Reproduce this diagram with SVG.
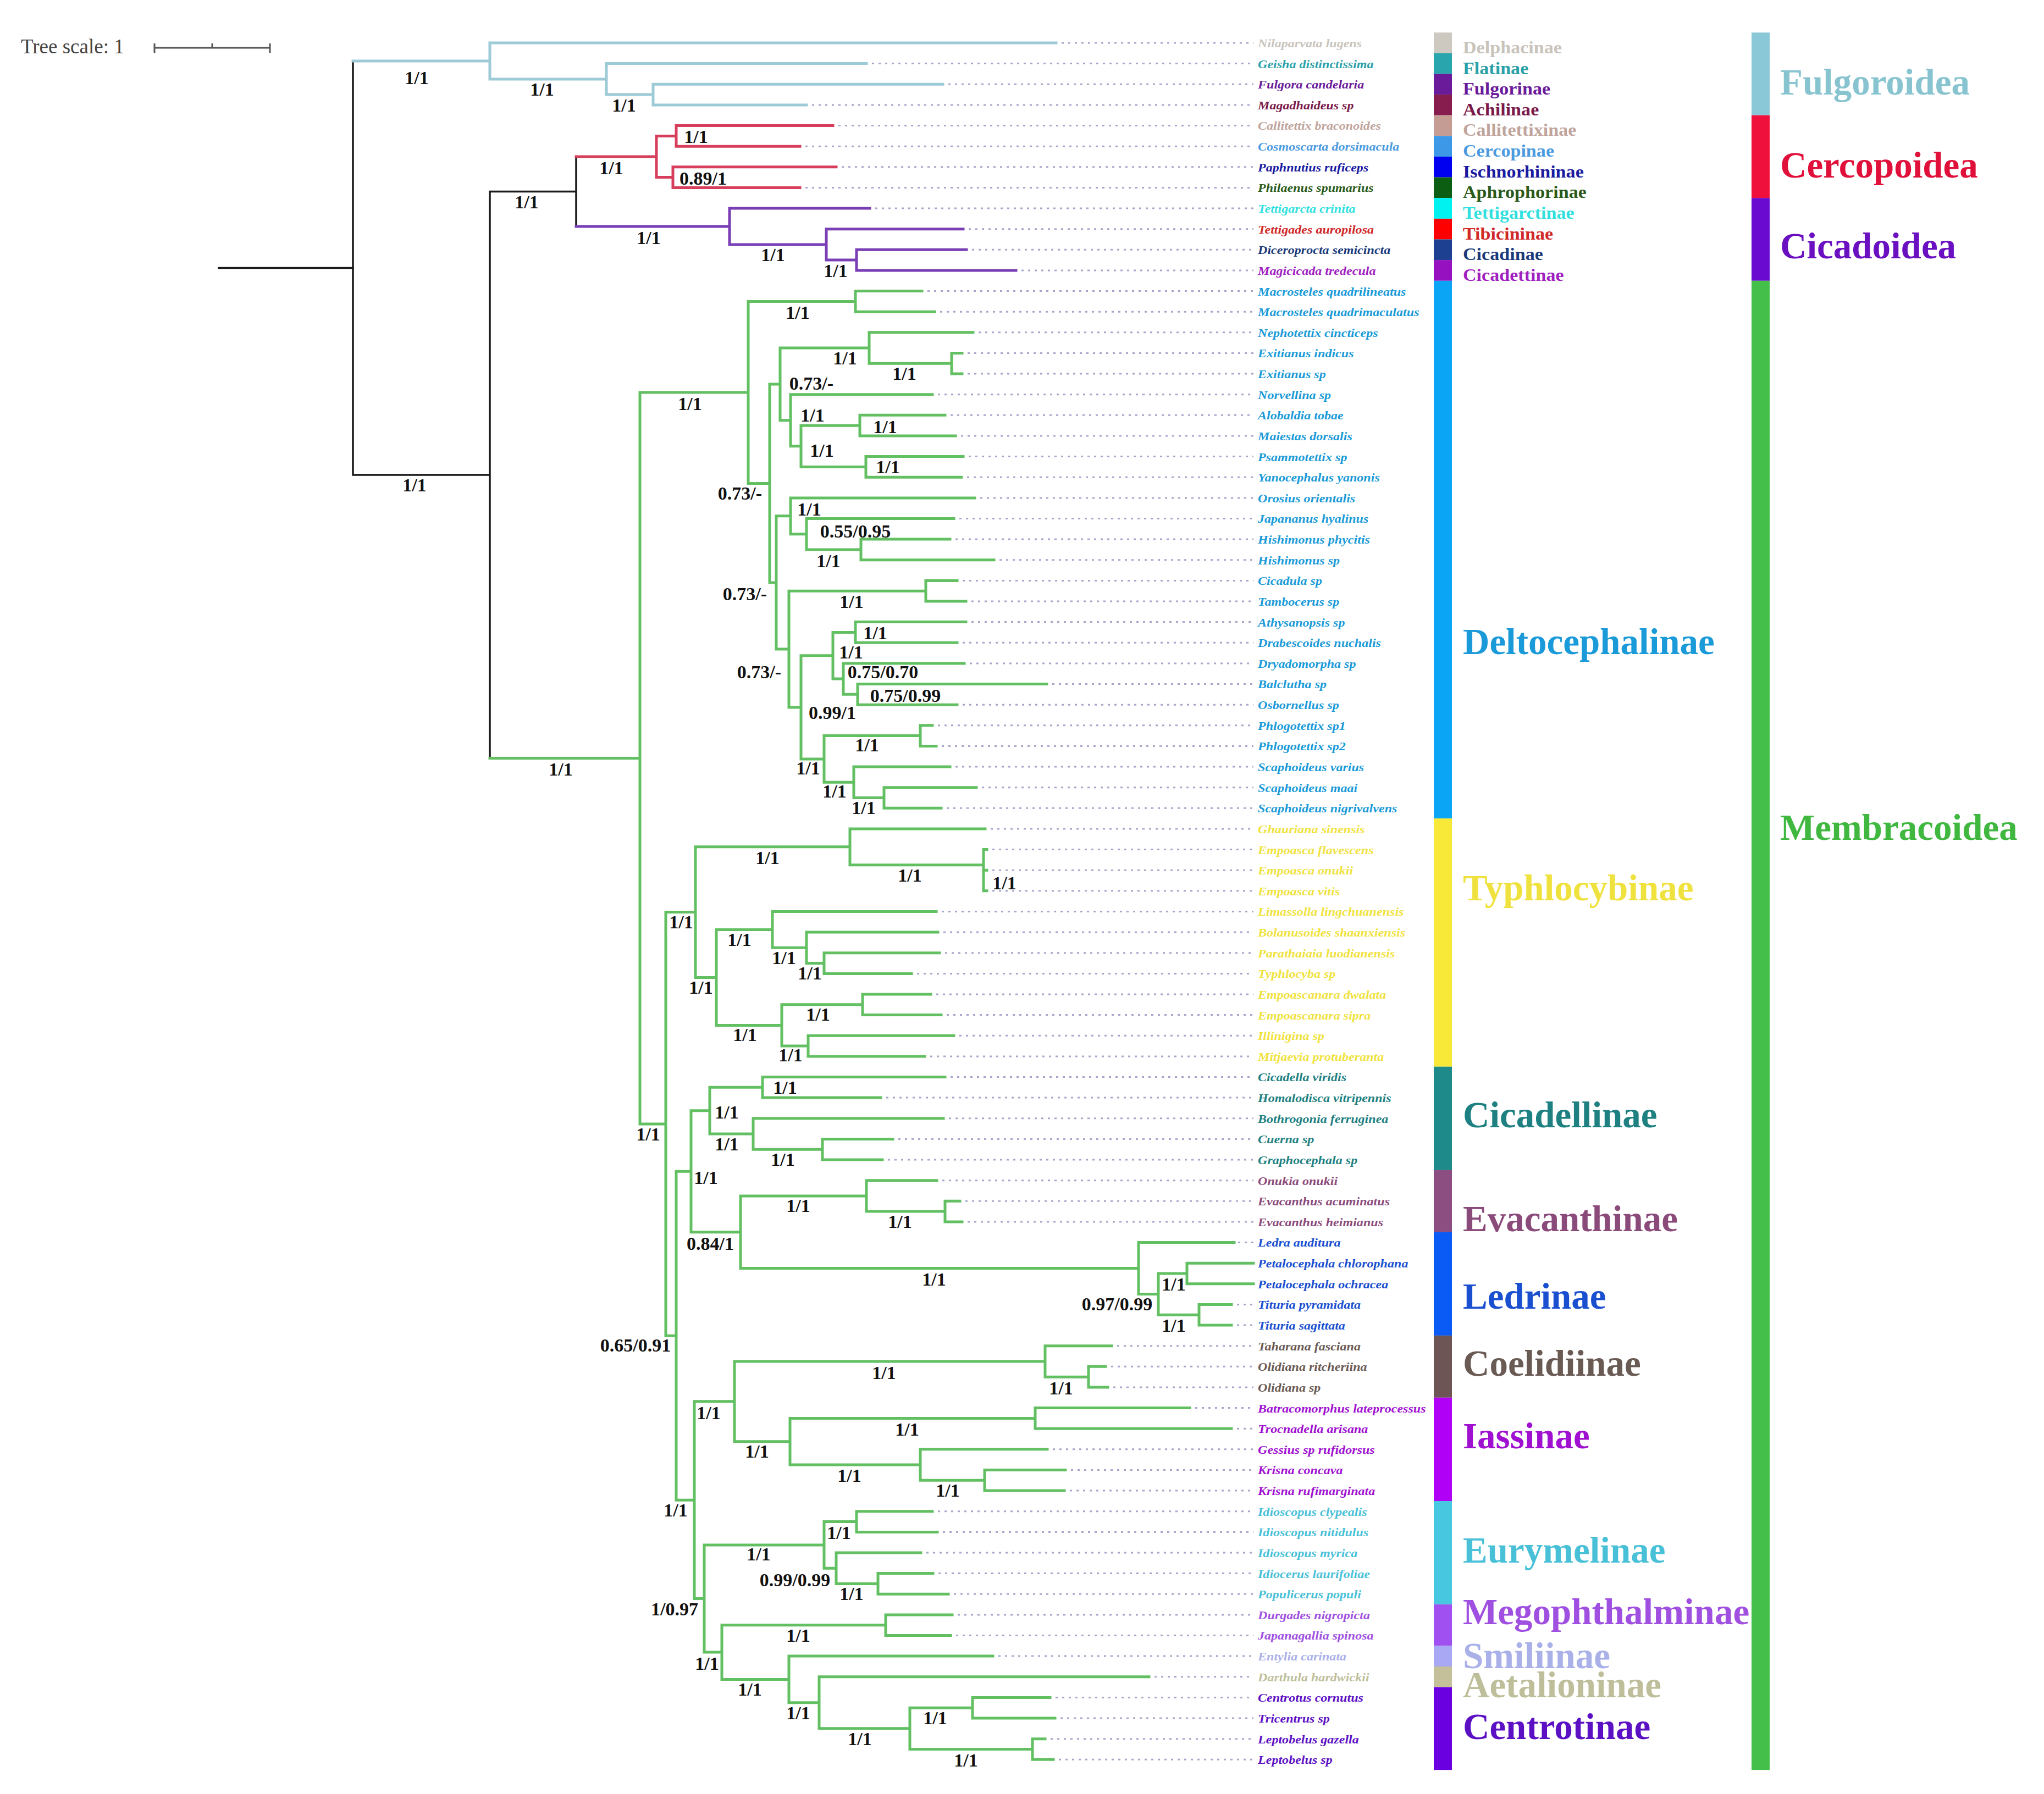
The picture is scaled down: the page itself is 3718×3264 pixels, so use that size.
<svg xmlns="http://www.w3.org/2000/svg" width="3718" height="3264" viewBox="0 0 3718 3264">
<style>
text{font-family:'Liberation Serif','Times New Roman',serif}
.br{fill:none;stroke-width:5;stroke-linecap:square}
.bk{fill:none;stroke:#1a1a1a;stroke-width:3.5;stroke-linecap:square}
.fu{stroke:#9ccad6}.ce{stroke:#d63e5c}.ci{stroke:#7a3fb5}.me{stroke:#62c062}
.lead{fill:none;stroke:#a6a6cc;stroke-width:3;stroke-dasharray:4 8}
.sup{font-size:34px;font-weight:bold;fill:#111;text-anchor:middle}
.lf{font-size:21.5px;font-weight:bold;font-style:italic}
.sf{font-size:31px;font-weight:bold}
.big{font-size:67px;font-weight:bold}
.c0{fill:#c8c4bc}.c1{fill:#2aa0a8}.c2{fill:#6a1a9a}.c3{fill:#7a1a4a}.c4{fill:#c0a49c}.c5{fill:#4a9ae0}.c6{fill:#1a1aa0}.c7{fill:#2a5a1a}.c8{fill:#30e0e0}.c9{fill:#d02828}.c10{fill:#1a3a7a}.c11{fill:#a020c0}
.dl{fill:#1a9ad8}.ty{fill:#f0e23e}.cl{fill:#1e8080}.ev{fill:#8a4a7a}.le{fill:#1a50d0}.co{fill:#6a5a54}.ia{fill:#a010d0}.eu{fill:#48c0d8}.mg{fill:#a050e0}.sm{fill:#aab0e8}.ae{fill:#bebe9a}.cn{fill:#5c10c4}
</style>

<g id="scale">
<text x="38" y="97" font-size="37" fill="#444">Tree scale: 1</text>
<path d="M281 87 H491 M281 79 V96 M491 79 V96 M386 79 V87" fill="none" stroke="#555" stroke-width="3"/>
</g>

<g id="connectors">
<path class="bk" d="M398 487.5 H642" stroke="#555" stroke-width="6"/>
<path class="bk" d="M642 111 V864 M642 864 H891 M891 348.5 V1379.4 M891 348.5 H1048 M1048 285 V412"/>
<path class="br fu" d="M642 111 H891 M891 78 V143.9 M891 78 H1921 M891 143.9 H1103 M1103 115.6 V172.1 M1103 115.6 H1576 M1103 172.1 H1188 M1188 153.3 V190.9 M1188 153.3 H1715 M1188 190.9 H1467"/>
<path class="br ce" d="M1048 285 H1194 M1194 247.4 V322.6 M1194 247.4 H1230 M1230 228.5 V266.2 M1230 228.5 H1515 M1230 266.2 H1455 M1194 322.6 H1224 M1224 303.8 V341.4 M1224 303.8 H1521 M1224 341.4 H1455"/>
<path class="br ci" d="M1048 412 H1327 M1327 379 V444.9 M1327 379 H1582 M1327 444.9 H1503 M1503 416.7 V473.1 M1503 416.7 H1752 M1503 473.1 H1558 M1558 454.3 V491.9 M1558 454.3 H1758 M1558 491.9 H1848"/>
<path class="br me" d="M891 1379.4 H1164 M1164 713.9 V2044.9 M1164 713.9 H1361 M1361 548.4 V879.4 M1361 548.4 H1556 M1556 529.6 V567.2 M1556 529.6 H1677 M1556 567.2 H1700
M1361 879.4 H1400 M1400 698.9 V1059.9 M1400 698.9 H1419 M1419 633 V764.75 M1419 633 H1581 M1581 604.8 V661.3 M1581 604.8 H1770 M1581 661.3 H1731 M1731 642.5 V680.1 M1731 642.5 H1750 M1731 680.1 H1750
M1419 764.75 H1438 M1438 717.7 V811.8 M1438 717.7 H1696 M1438 811.8 H1457 M1457 774.15 V849.4 M1457 774.15 H1564 M1564 755.3 V793 M1564 755.3 H1719 M1564 793 H1738 M1457 849.4 H1575 M1575 830.6 V868.2 M1575 830.6 H1752 M1575 868.2 H1749
M1400 1059.9 H1412 M1412 938.8 V1181.05 M1412 938.8 H1438 M1438 905.9 V971.7 M1438 905.9 H1773 M1438 971.7 H1467 M1467 943.5 V999.95 M1467 943.5 H1735 M1467 999.95 H1566 M1566 981.1 V1018.8 M1566 981.1 H1728 M1566 1018.8 H1808
M1412 1181.05 H1435 M1435 1075.2 V1286.9 M1435 1075.2 H1684 M1684 1056.4 V1094 M1684 1056.4 H1741 M1684 1094 H1757
M1435 1286.9 H1457 M1457 1192.8 V1380.95 M1457 1192.8 H1515 M1515 1150.45 V1235.1 M1515 1150.45 H1556 M1556 1131.6 V1169.3 M1556 1131.6 H1757 M1556 1169.3 H1741 M1515 1235.1 H1534 M1534 1206.9 V1263.35 M1534 1206.9 H1754 M1534 1263.35 H1560 M1560 1244.5 V1282.2 M1560 1244.5 H1904 M1560 1282.2 H1741
M1457 1380.95 H1499 M1499 1338.6 V1423.3 M1499 1338.6 H1674 M1674 1319.8 V1357.4 M1674 1319.8 H1696 M1674 1357.4 H1703 M1499 1423.3 H1553 M1553 1395.1 V1451.5 M1553 1395.1 H1728 M1553 1451.5 H1608 M1608 1432.7 V1470.3 M1608 1432.7 H1776 M1608 1470.3 H1712
M1164 2044.9 H1211 M1211 1659.6 V2430.2 M1211 1659.6 H1265 M1265 1540.85 V1778.4 M1265 1540.85 H1546 M1546 1507.9 V1573.8 M1546 1507.9 H1792 M1546 1573.8 H1789 M1789 1545.6 V1620.8 M1789 1545.6 H1795 M1789 1583.2 H1795 M1789 1620.8 H1795
M1265 1778.4 H1303 M1303 1691.4 V1865.4 M1303 1691.4 H1405 M1405 1658.5 V1724.3 M1405 1658.5 H1703 M1405 1724.3 H1467 M1467 1696.1 V1752.55 M1467 1696.1 H1706 M1467 1752.55 H1499 M1499 1733.7 V1771.4 M1499 1733.7 H1709 M1499 1771.4 H1658
M1303 1865.4 H1422 M1422 1827.8 V1903.05 M1422 1827.8 H1569 M1569 1809 V1846.6 M1569 1809 H1693 M1569 1846.6 H1712 M1422 1903.05 H1470 M1470 1884.2 V1921.9 M1470 1884.2 H1735 M1470 1921.9 H1682
M1211 2430.2 H1230 M1230 2131.2 V2729.15 M1230 2131.2 H1257 M1257 2020.65 V2241.7 M1257 2020.65 H1291 M1291 1978.3 V2063 M1291 1978.3 H1387 M1387 1959.5 V1997.1 M1387 1959.5 H1719 M1387 1997.1 H1602 M1291 2063 H1370 M1370 2034.8 V2091.2 M1370 2034.8 H1716 M1370 2091.2 H1496 M1496 2072.4 V2110 M1496 2072.4 H1624 M1496 2110 H1605
M1257 2241.7 H1347 M1347 2175.9 V2307.55 M1347 2175.9 H1576 M1576 2147.7 V2204.1 M1576 2147.7 H1704 M1576 2204.1 H1719 M1719 2185.3 V2222.9 M1719 2185.3 H1746 M1719 2222.9 H1750
M1347 2307.55 H2071 M2071 2260.5 V2354.6 M2071 2260.5 H2245 M2071 2354.6 H2107 M2107 2317 V2392.25 M2107 2317 H2159 M2159 2298.2 V2335.8 M2159 2298.2 H2280 M2159 2335.8 H2280 M2107 2392.25 H2181 M2181 2373.4 V2411.1 M2181 2373.4 H2240 M2181 2411.1 H2240
M1230 2729.15 H1263 M1263 2549.8 V2908.5 M1263 2549.8 H1336 M1336 2476.9 V2622.7 M1336 2476.9 H1901 M1901 2448.7 V2505.15 M1901 2448.7 H2022 M1901 2505.15 H1980 M1980 2486.3 V2524 M1980 2486.3 H2011 M1980 2524 H2015
M1336 2622.7 H1437 M1437 2580.4 V2665.05 M1437 2580.4 H1883 M1883 2561.6 V2599.2 M1883 2561.6 H2164 M1883 2599.2 H2240 M1437 2665.05 H1674 M1674 2636.8 V2693.3 M1674 2636.8 H1905 M1674 2693.3 H1791 M1791 2674.5 V2712.1 M1791 2674.5 H1938 M1791 2712.1 H1936
M1263 2908.5 H1281 M1281 2810.9 V3006.1 M1281 2810.9 H1499 M1499 2768.55 V2853.2 M1499 2768.55 H1558 M1558 2749.7 V2787.4 M1558 2749.7 H1696 M1558 2787.4 H1705 M1499 2853.2 H1521 M1521 2825 V2881.45 M1521 2825 H1675 M1521 2881.45 H1597 M1597 2862.6 V2900.3 M1597 2862.6 H1697 M1597 2900.3 H1725
M1281 3006.1 H1313 M1313 2956.7 V3055.45 M1313 2956.7 H1611 M1611 2937.9 V2975.5 M1611 2937.9 H1732 M1611 2975.5 H1729 M1313 3055.45 H1435 M1435 3013.1 V3097.8 M1435 3013.1 H1806 M1435 3097.8 H1490 M1490 3050.8 V3144.85 M1490 3050.8 H2090 M1490 3144.85 H1655 M1655 3107.2 V3182.5 M1655 3107.2 H1769 M1769 3088.4 V3126 M1769 3088.4 H1910 M1769 3126 H1919 M1655 3182.5 H1878 M1878 3163.7 V3201.3 M1878 3163.7 H1901 M1878 3201.3 H1916"/>
<path class="lead" d="M1931 78 H2280 M1586 115.6 H2280 M1725 153.3 H2280 M1477 190.9 H2280 M1525 228.5 H2280 M1465 266.2 H2280 M1531 303.8 H2280 M1465 341.4 H2280 M1592 379 H2280 M1762 416.7 H2280 M1768 454.3 H2280 M1858 491.9 H2280
M1687 529.6 H2280 M1710 567.2 H2280 M1780 604.8 H2280 M1760 642.5 H2280 M1760 680.1 H2280 M1706 717.7 H2280 M1729 755.3 H2280 M1748 793 H2280 M1762 830.6 H2280 M1759 868.2 H2280 M1783 905.9 H2280 M1745 943.5 H2280 M1738 981.1 H2280 M1818 1018.8 H2280 M1751 1056.4 H2280 M1767 1094 H2280 M1767 1131.6 H2280 M1751 1169.3 H2280 M1764 1206.9 H2280 M1914 1244.5 H2280 M1751 1282.2 H2280 M1706 1319.8 H2280 M1713 1357.4 H2280 M1738 1395.1 H2280 M1786 1432.7 H2280 M1722 1470.3 H2280
M1802 1507.9 H2280 M1805 1545.6 H2280 M1805 1583.2 H2280 M1805 1620.8 H2280 M1713 1658.5 H2280 M1716 1696.1 H2280 M1719 1733.7 H2280 M1668 1771.4 H2280 M1703 1809 H2280 M1722 1846.6 H2280 M1745 1884.2 H2280 M1692 1921.9 H2280
M1729 1959.5 H2280 M1612 1997.1 H2280 M1726 2034.8 H2280 M1634 2072.4 H2280 M1615 2110 H2280 M1714 2147.7 H2280 M1756 2185.3 H2280 M1760 2222.9 H2280 M2252 2260.5 H2280 M2250 2373.4 H2280 M2250 2411.1 H2280
M2032 2448.7 H2280 M2021 2486.3 H2280 M2025 2524 H2280 M2174 2561.6 H2280 M2250 2599.2 H2280 M1915 2636.8 H2280 M1948 2674.5 H2280 M1946 2712.1 H2280 M1706 2749.7 H2280 M1715 2787.4 H2280 M1685 2825 H2280 M1707 2862.6 H2280 M1735 2900.3 H2280 M1742 2937.9 H2280 M1739 2975.5 H2280 M1816 3013.1 H2280 M2100 3050.8 H2280 M1920 3088.4 H2280 M1929 3126 H2280 M1911 3163.7 H2280 M1926 3201.3 H2280"/>
</g>

<g id="support">
<text class="sup" x="758" y="153">1/1</text>
<text class="sup" x="986" y="174">1/1</text>
<text class="sup" x="1135" y="203">1/1</text>
<text class="sup" x="1266" y="260">1/1</text>
<text class="sup" x="1112" y="317">1/1</text>
<text class="sup" x="1279" y="336">0.89/1</text>
<text class="sup" x="958" y="379">1/1</text>
<text class="sup" x="1180" y="444">1/1</text>
<text class="sup" x="1406" y="475">1/1</text>
<text class="sup" x="1520" y="504">1/1</text>
<text class="sup" x="754" y="894">1/1</text>
<text class="sup" x="1020" y="1411">1/1</text>
<text class="sup" x="1255" y="746">1/1</text>
<text class="sup" x="1451" y="580">1/1</text>
<text class="sup" x="1476" y="709">0.73/-</text>
<text class="sup" x="1537" y="663">1/1</text>
<text class="sup" x="1645" y="691">1/1</text>
<text class="sup" x="1346" y="909">0.73/-</text>
<text class="sup" x="1478" y="767">1/1</text>
<text class="sup" x="1495" y="831">1/1</text>
<text class="sup" x="1610" y="788">1/1</text>
<text class="sup" x="1615" y="861">1/1</text>
<text class="sup" x="1472" y="938">1/1</text>
<text class="sup" x="1556" y="978">0.55/0.95</text>
<text class="sup" x="1507" y="1032">1/1</text>
<text class="sup" x="1355" y="1092">0.73/-</text>
<text class="sup" x="1381" y="1234">0.73/-</text>
<text class="sup" x="1549" y="1106">1/1</text>
<text class="sup" x="1548" y="1198">1/1</text>
<text class="sup" x="1592" y="1163">1/1</text>
<text class="sup" x="1606" y="1234">0.75/0.70</text>
<text class="sup" x="1647" y="1277">0.75/0.99</text>
<text class="sup" x="1514" y="1308">0.99/1</text>
<text class="sup" x="1470" y="1409">1/1</text>
<text class="sup" x="1577" y="1367">1/1</text>
<text class="sup" x="1518" y="1451">1/1</text>
<text class="sup" x="1571" y="1481">1/1</text>
<text class="sup" x="1239" y="1689">1/1</text>
<text class="sup" x="1396" y="1572">1/1</text>
<text class="sup" x="1655" y="1604">1/1</text>
<text class="sup" x="1827" y="1618">1/1</text>
<text class="sup" x="1275" y="1808">1/1</text>
<text class="sup" x="1345" y="1721">1/1</text>
<text class="sup" x="1426" y="1754">1/1</text>
<text class="sup" x="1473" y="1782">1/1</text>
<text class="sup" x="1355" y="1894">1/1</text>
<text class="sup" x="1488" y="1857">1/1</text>
<text class="sup" x="1438" y="1931">1/1</text>
<text class="sup" x="1179" y="2075">1/1</text>
<text class="sup" x="1156" y="2459">0.65/0.91</text>
<text class="sup" x="1284" y="2154">1/1</text>
<text class="sup" x="1322" y="2035">1/1</text>
<text class="sup" x="1428" y="1990">1/1</text>
<text class="sup" x="1322" y="2093">1/1</text>
<text class="sup" x="1424" y="2121">1/1</text>
<text class="sup" x="1292" y="2274">0.84/1</text>
<text class="sup" x="1452" y="2205">1/1</text>
<text class="sup" x="1637" y="2234">1/1</text>
<text class="sup" x="1699" y="2339">1/1</text>
<text class="sup" x="2032" y="2384">0.97/0.99</text>
<text class="sup" x="2135" y="2348">1/1</text>
<text class="sup" x="2135" y="2423">1/1</text>
<text class="sup" x="1229" y="2759">1/1</text>
<text class="sup" x="1289" y="2582">1/1</text>
<text class="sup" x="1608" y="2509">1/1</text>
<text class="sup" x="1930" y="2537">1/1</text>
<text class="sup" x="1377" y="2652">1/1</text>
<text class="sup" x="1650" y="2612">1/1</text>
<text class="sup" x="1545" y="2696">1/1</text>
<text class="sup" x="1724" y="2723">1/1</text>
<text class="sup" x="1227" y="2939">1/0.97</text>
<text class="sup" x="1380" y="2839">1/1</text>
<text class="sup" x="1526" y="2800">1/1</text>
<text class="sup" x="1446" y="2886">0.99/0.99</text>
<text class="sup" x="1549" y="2911">1/1</text>
<text class="sup" x="1452" y="2987">1/1</text>
<text class="sup" x="1286" y="3038">1/1</text>
<text class="sup" x="1364" y="3085">1/1</text>
<text class="sup" x="1452" y="3128">1/1</text>
<text class="sup" x="1564" y="3175">1/1</text>
<text class="sup" x="1701" y="3137">1/1</text>
<text class="sup" x="1757" y="3214">1/1</text>
</g>

<g id="leaves" transform="translate(2288 0) scale(1.12 1)">
<g id="leaf-0"><text class="lf c0" x="0" y="86">Nilaparvata lugens</text></g>
<g id="leaf-1"><text class="lf c1" x="0" y="123.6">Geisha distinctissima</text></g>
<g id="leaf-2"><text class="lf c2" x="0" y="161.3">Fulgora candelaria</text></g>
<g id="leaf-3"><text class="lf c3" x="0" y="198.9">Magadhaideus sp</text></g>
<g id="leaf-4"><text class="lf c4" x="0" y="236.5">Callitettix braconoides</text></g>
<g id="leaf-5"><text class="lf c5" x="0" y="274.2">Cosmoscarta dorsimacula</text></g>
<g id="leaf-6"><text class="lf c6" x="0" y="311.8">Paphnutius ruficeps</text></g>
<g id="leaf-7"><text class="lf c7" x="0" y="349.4">Philaenus spumarius</text></g>
<g id="leaf-8"><text class="lf c8" x="0" y="387">Tettigarcta crinita</text></g>
<g id="leaf-9"><text class="lf c9" x="0" y="424.7">Tettigades auropilosa</text></g>
<g id="leaf-10"><text class="lf c10" x="0" y="462.3">Diceroprocta semicincta</text></g>
<g id="leaf-11"><text class="lf c11" x="0" y="499.9">Magicicada tredecula</text></g>
<g id="leaf-12"><text class="lf dl" x="0" y="537.6">Macrosteles quadrilineatus</text></g>
<g id="leaf-13"><text class="lf dl" x="0" y="575.2">Macrosteles quadrimaculatus</text></g>
<g id="leaf-14"><text class="lf dl" x="0" y="612.8">Nephotettix cincticeps</text></g>
<g id="leaf-15"><text class="lf dl" x="0" y="650.5">Exitianus indicus</text></g>
<g id="leaf-16"><text class="lf dl" x="0" y="688.1">Exitianus sp</text></g>
<g id="leaf-17"><text class="lf dl" x="0" y="725.7">Norvellina sp</text></g>
<g id="leaf-18"><text class="lf dl" x="0" y="763.3">Alobaldia tobae</text></g>
<g id="leaf-19"><text class="lf dl" x="0" y="801">Maiestas dorsalis</text></g>
<g id="leaf-20"><text class="lf dl" x="0" y="838.6">Psammotettix sp</text></g>
<g id="leaf-21"><text class="lf dl" x="0" y="876.2">Yanocephalus yanonis</text></g>
<g id="leaf-22"><text class="lf dl" x="0" y="913.9">Orosius orientalis</text></g>
<g id="leaf-23"><text class="lf dl" x="0" y="951.5">Japananus hyalinus</text></g>
<g id="leaf-24"><text class="lf dl" x="0" y="989.1">Hishimonus phycitis</text></g>
<g id="leaf-25"><text class="lf dl" x="0" y="1026.8">Hishimonus sp</text></g>
<g id="leaf-26"><text class="lf dl" x="0" y="1064.4">Cicadula sp</text></g>
<g id="leaf-27"><text class="lf dl" x="0" y="1102">Tambocerus sp</text></g>
<g id="leaf-28"><text class="lf dl" x="0" y="1139.6">Athysanopsis sp</text></g>
<g id="leaf-29"><text class="lf dl" x="0" y="1177.3">Drabescoides nuchalis</text></g>
<g id="leaf-30"><text class="lf dl" x="0" y="1214.9">Dryadomorpha sp</text></g>
<g id="leaf-31"><text class="lf dl" x="0" y="1252.5">Balclutha sp</text></g>
<g id="leaf-32"><text class="lf dl" x="0" y="1290.2">Osbornellus sp</text></g>
<g id="leaf-33"><text class="lf dl" x="0" y="1327.8">Phlogotettix sp1</text></g>
<g id="leaf-34"><text class="lf dl" x="0" y="1365.4">Phlogotettix sp2</text></g>
<g id="leaf-35"><text class="lf dl" x="0" y="1403.1">Scaphoideus varius</text></g>
<g id="leaf-36"><text class="lf dl" x="0" y="1440.7">Scaphoideus maai</text></g>
<g id="leaf-37"><text class="lf dl" x="0" y="1478.3">Scaphoideus nigrivalvens</text></g>
<g id="leaf-38"><text class="lf ty" x="0" y="1515.9">Ghauriana sinensis</text></g>
<g id="leaf-39"><text class="lf ty" x="0" y="1553.6">Empoasca flavescens</text></g>
<g id="leaf-40"><text class="lf ty" x="0" y="1591.2">Empoasca onukii</text></g>
<g id="leaf-41"><text class="lf ty" x="0" y="1628.8">Empoasca vitis</text></g>
<g id="leaf-42"><text class="lf ty" x="0" y="1666.5">Limassolla lingchuanensis</text></g>
<g id="leaf-43"><text class="lf ty" x="0" y="1704.1">Bolanusoides shaanxiensis</text></g>
<g id="leaf-44"><text class="lf ty" x="0" y="1741.7">Parathaiaia luodianensis</text></g>
<g id="leaf-45"><text class="lf ty" x="0" y="1779.4">Typhlocyba sp</text></g>
<g id="leaf-46"><text class="lf ty" x="0" y="1817">Empoascanara dwalata</text></g>
<g id="leaf-47"><text class="lf ty" x="0" y="1854.6">Empoascanara sipra</text></g>
<g id="leaf-48"><text class="lf ty" x="0" y="1892.2">Illinigina sp</text></g>
<g id="leaf-49"><text class="lf ty" x="0" y="1929.9">Mitjaevia protuberanta</text></g>
<g id="leaf-50"><text class="lf cl" x="0" y="1967.5">Cicadella viridis</text></g>
<g id="leaf-51"><text class="lf cl" x="0" y="2005.1">Homalodisca vitripennis</text></g>
<g id="leaf-52"><text class="lf cl" x="0" y="2042.8">Bothrogonia ferruginea</text></g>
<g id="leaf-53"><text class="lf cl" x="0" y="2080.4">Cuerna sp</text></g>
<g id="leaf-54"><text class="lf cl" x="0" y="2118">Graphocephala sp</text></g>
<g id="leaf-55"><text class="lf ev" x="0" y="2155.7">Onukia onukii</text></g>
<g id="leaf-56"><text class="lf ev" x="0" y="2193.3">Evacanthus acuminatus</text></g>
<g id="leaf-57"><text class="lf ev" x="0" y="2230.9">Evacanthus heimianus</text></g>
<g id="leaf-58"><text class="lf le" x="0" y="2268.5">Ledra auditura</text></g>
<g id="leaf-59"><text class="lf le" x="0" y="2306.2">Petalocephala chlorophana</text></g>
<g id="leaf-60"><text class="lf le" x="0" y="2343.8">Petalocephala ochracea</text></g>
<g id="leaf-61"><text class="lf le" x="0" y="2381.4">Tituria pyramidata</text></g>
<g id="leaf-62"><text class="lf le" x="0" y="2419.1">Tituria sagittata</text></g>
<g id="leaf-63"><text class="lf co" x="0" y="2456.7">Taharana fasciana</text></g>
<g id="leaf-64"><text class="lf co" x="0" y="2494.3">Olidiana ritcheriina</text></g>
<g id="leaf-65"><text class="lf co" x="0" y="2532">Olidiana sp</text></g>
<g id="leaf-66"><text class="lf ia" x="0" y="2569.6">Batracomorphus lateprocessus</text></g>
<g id="leaf-67"><text class="lf ia" x="0" y="2607.2">Trocnadella arisana</text></g>
<g id="leaf-68"><text class="lf ia" x="0" y="2644.8">Gessius sp rufidorsus</text></g>
<g id="leaf-69"><text class="lf ia" x="0" y="2682.5">Krisna concava</text></g>
<g id="leaf-70"><text class="lf ia" x="0" y="2720.1">Krisna rufimarginata</text></g>
<g id="leaf-71"><text class="lf eu" x="0" y="2757.7">Idioscopus clypealis</text></g>
<g id="leaf-72"><text class="lf eu" x="0" y="2795.4">Idioscopus nitidulus</text></g>
<g id="leaf-73"><text class="lf eu" x="0" y="2833">Idioscopus myrica</text></g>
<g id="leaf-74"><text class="lf eu" x="0" y="2870.6">Idiocerus laurifoliae</text></g>
<g id="leaf-75"><text class="lf eu" x="0" y="2908.3">Populicerus populi</text></g>
<g id="leaf-76"><text class="lf mg" x="0" y="2945.9">Durgades nigropicta</text></g>
<g id="leaf-77"><text class="lf mg" x="0" y="2983.5">Japanagallia spinosa</text></g>
<g id="leaf-78"><text class="lf sm" x="0" y="3021.1">Entylia carinata</text></g>
<g id="leaf-79"><text class="lf ae" x="0" y="3058.8">Darthula hardwickii</text></g>
<g id="leaf-80"><text class="lf cn" x="0" y="3096.4">Centrotus cornutus</text></g>
<g id="leaf-81"><text class="lf cn" x="0" y="3134">Tricentrus sp</text></g>
<g id="leaf-82"><text class="lf cn" x="0" y="3171.7">Leptobelus gazella</text></g>
<g id="leaf-83"><text class="lf cn" x="0" y="3209.3">Leptobelus sp</text></g>
</g>

<g id="subfamily-bar">
<rect x="2608" y="59.2" width="33" height="37.6" fill="#cdc8c0"/>
<rect x="2608" y="96.8" width="33" height="37.7" fill="#28a5ad"/>
<rect x="2608" y="134.5" width="33" height="37.6" fill="#6a1b9a"/>
<rect x="2608" y="172.1" width="33" height="37.6" fill="#861d4e"/>
<rect x="2608" y="209.7" width="33" height="37.7" fill="#c49c94"/>
<rect x="2608" y="247.4" width="33" height="37.6" fill="#3d98e8"/>
<rect x="2608" y="285" width="33" height="37.6" fill="#0000f0"/>
<rect x="2608" y="322.6" width="33" height="37.6" fill="#0b5e12"/>
<rect x="2608" y="360.2" width="33" height="37.7" fill="#00f2f0"/>
<rect x="2608" y="397.9" width="33" height="37.6" fill="#ff0000"/>
<rect x="2608" y="435.5" width="33" height="37.6" fill="#1e4090"/>
<rect x="2608" y="473.1" width="33" height="37.7" fill="#9612c0"/>
<rect x="2608" y="510.8" width="33" height="978.3" fill="#0aa5f5"/>
<rect x="2608" y="1489.1" width="33" height="451.6" fill="#f8e838"/>
<rect x="2608" y="1940.7" width="33" height="188.2" fill="#1f8a8a"/>
<rect x="2608" y="2128.9" width="33" height="112.8" fill="#8c4e80"/>
<rect x="2608" y="2241.7" width="33" height="188.2" fill="#0a5af5"/>
<rect x="2608" y="2429.9" width="33" height="112.9" fill="#6e5555"/>
<rect x="2608" y="2542.8" width="33" height="188.2" fill="#b000f5"/>
<rect x="2608" y="2731" width="33" height="188.1" fill="#48c8e0"/>
<rect x="2608" y="2919.1" width="33" height="75.3" fill="#a050f0"/>
<rect x="2608" y="2994.4" width="33" height="37.6" fill="#a8a8f5"/>
<rect x="2608" y="3032" width="33" height="37.6" fill="#c4c09a"/>
<rect x="2608" y="3069.6" width="33" height="150.6" fill="#6a00e0"/>
</g>

<g id="subfamily-small" transform="translate(2661 0) scale(1.1 1)">
<text class="sf c0" x="0" y="97">Delphacinae</text>
<text class="sf c1" x="0" y="134.6">Flatinae</text>
<text class="sf c2" x="0" y="172.3">Fulgorinae</text>
<text class="sf c3" x="0" y="209.9">Achilinae</text>
<text class="sf c4" x="0" y="247.5">Callitettixinae</text>
<text class="sf c5" x="0" y="285.2">Cercopinae</text>
<text class="sf c6" x="0" y="322.8">Ischnorhininae</text>
<text class="sf c7" x="0" y="360.4">Aphrophorinae</text>
<text class="sf c8" x="0" y="398">Tettigarctinae</text>
<text class="sf c9" x="0" y="435.7">Tibicininae</text>
<text class="sf c10" x="0" y="473.3">Cicadinae</text>
<text class="sf c11" x="0" y="510.9">Cicadettinae</text>
</g>

<g id="subfamily-big">
<text class="big dl" x="2661" y="1190">Deltocephalinae</text>
<text class="big ty" x="2661" y="1638">Typhlocybinae</text>
<text class="big cl" x="2661" y="2051">Cicadellinae</text>
<text class="big ev" x="2661" y="2240">Evacanthinae</text>
<text class="big le" x="2661" y="2381">Ledrinae</text>
<text class="big co" x="2661" y="2503">Coelidiinae</text>
<text class="big ia" x="2661" y="2635">Iassinae</text>
<text class="big eu" x="2661" y="2843">Eurymelinae</text>
<text class="big mg" x="2661" y="2955">Megophthalminae</text>
<text class="big sm" x="2661" y="3035">Smiliinae</text>
<text class="big ae" x="2661" y="3088">Aetalioninae</text>
<text class="big cn" x="2661" y="3164">Centrotinae</text>
</g>

<g id="superfamily">
<rect x="3186" y="59.2" width="33" height="150.5" fill="#8ac8d8"/>
<rect x="3186" y="209.7" width="33" height="150.5" fill="#f0103c"/>
<rect x="3186" y="360.2" width="33" height="150.6" fill="#6a0ad0"/>
<rect x="3186" y="510.8" width="33" height="2709.4" fill="#44c04a"/>
<text class="big" x="3238" y="172" fill="#88c4d0">Fulgoroidea</text>
<text class="big" x="3238" y="323" fill="#e0103a">Cercopoidea</text>
<text class="big" x="3238" y="470" fill="#6a10c0">Cicadoidea</text>
<text class="big" x="3238" y="1528" fill="#40b840">Membracoidea</text>
</g>
</svg>
